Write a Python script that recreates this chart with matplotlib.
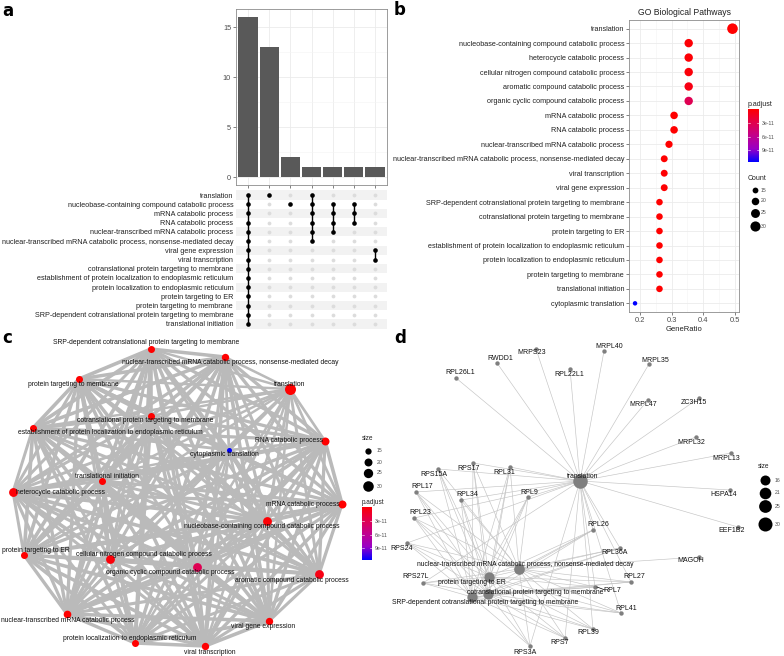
import numpy as np
import matplotlib
matplotlib.use('Agg')
import matplotlib.pyplot as plt
from matplotlib.colors import LinearSegmentedColormap, Normalize

plt.rcParams['font.family'] = ['Liberation Sans', 'DejaVu Sans']

# ------------------------------------------------------------------ data
upset_sets = [
    "translation",
    "nucleobase-containing compound catabolic process",
    "mRNA catabolic process",
    "RNA catabolic process",
    "nuclear-transcribed mRNA catabolic process",
    "nuclear-transcribed mRNA catabolic process, nonsense-mediated decay",
    "viral gene expression",
    "viral transcription",
    "cotranslational protein targeting to membrane",
    "establishment of protein localization to endoplasmic reticulum",
    "protein localization to endoplasmic reticulum",
    "protein targeting to ER",
    "protein targeting to membrane",
    "SRP-dependent cotranslational protein targeting to membrane",
    "translational initiation",
]
intersection_sizes = [16, 13, 2, 1, 1, 1, 1]
intersection_members = [
    list(range(15)),
    [0],
    [1],
    [0, 1, 2, 3, 4, 5],
    [1, 2, 3, 4],
    [1, 2, 3],
    [6, 7],
]

go_terms = [
    "translation",
    "nucleobase-containing compound catabolic process",
    "heterocycle catabolic process",
    "cellular nitrogen compound catabolic process",
    "aromatic compound catabolic process",
    "organic cyclic compound catabolic process",
    "mRNA catabolic process",
    "RNA catabolic process",
    "nuclear-transcribed mRNA catabolic process",
    "nuclear-transcribed mRNA catabolic process, nonsense-mediated decay",
    "viral transcription",
    "viral gene expression",
    "SRP-dependent cotranslational protein targeting to membrane",
    "cotranslational protein targeting to membrane",
    "protein targeting to ER",
    "establishment of protein localization to endoplasmic reticulum",
    "protein localization to endoplasmic reticulum",
    "protein targeting to membrane",
    "translational initiation",
    "cytoplasmic translation",
]
gene_ratio = [0.492, 0.354, 0.354, 0.354, 0.354, 0.354, 0.308, 0.308, 0.292,
              0.277, 0.277, 0.277, 0.262, 0.262, 0.262, 0.262, 0.262, 0.262,
              0.262, 0.185]
go_count = [32, 23, 23, 23, 23, 23, 20, 20, 19, 18, 18, 18, 17, 17, 17, 17, 17,
            17, 17, 12]
go_padj = [1e-14, 2e-12, 2e-12, 4e-12, 8e-12, 3.2e-11, 1e-13, 1e-13, 1e-13,
           1e-13, 1e-12, 1e-12, 1e-14, 1e-14, 1e-14, 1e-14, 1e-14, 1e-14,
           1e-14, 1.15e-10]

# panel c: enrichment map layout (node positions and label positions)
emap_pos = {
    "translation": (290, 389),
    "SRP-dependent cotranslational protein targeting to membrane": (151, 349),
    "nuclear-transcribed mRNA catabolic process, nonsense-mediated decay": (225, 357),
    "protein targeting to membrane": (79, 379),
    "cotranslational protein targeting to membrane": (151, 416),
    "establishment of protein localization to endoplasmic reticulum": (33, 428),
    "RNA catabolic process": (325, 441),
    "cytoplasmic translation": (229, 450),
    "translational initiation": (102, 481),
    "heterocycle catabolic process": (13, 492),
    "mRNA catabolic process": (342, 504),
    "nucleobase-containing compound catabolic process": (267, 521),
    "protein targeting to ER": (24, 555),
    "cellular nitrogen compound catabolic process": (110, 559),
    "organic cyclic compound catabolic process": (197, 567),
    "aromatic compound catabolic process": (319, 574),
    "nuclear-transcribed mRNA catabolic process": (67, 614),
    "viral gene expression": (269, 621),
    "protein localization to endoplasmic reticulum": (135, 643),
    "viral transcription": (205, 646),
}
emap_label = {
    "translation": (290, 384),
    "SRP-dependent cotranslational protein targeting to membrane": (146, 343),
    "nuclear-transcribed mRNA catabolic process, nonsense-mediated decay": (230, 363),
    "protein targeting to membrane": (73, 384),
    "cotranslational protein targeting to membrane": (145, 421),
    "establishment of protein localization to endoplasmic reticulum": (110, 432),
    "RNA catabolic process": (289, 441),
    "cytoplasmic translation": (224, 455),
    "translational initiation": (107, 476),
    "heterocycle catabolic process": (60, 492),
    "mRNA catabolic process": (303, 504),
    "nucleobase-containing compound catabolic process": (262, 527),
    "protein targeting to ER": (36, 551),
    "cellular nitrogen compound catabolic process": (144, 555),
    "organic cyclic compound catabolic process": (170, 572),
    "aromatic compound catabolic process": (292, 581),
    "nuclear-transcribed mRNA catabolic process": (68, 620),
    "viral gene expression": (263, 627),
    "protein localization to endoplasmic reticulum": (130, 638),
    "viral transcription": (210, 652),
}

# panel d: gene-concept network layout
cnet_categories = {
    "translation": (580, 481, 583, 476),
    "nuclear-transcribed mRNA catabolic process, nonsense-mediated decay": (519, 569, 525, 564),
    "protein targeting to ER": (489, 577, 472, 582),
    "cotranslational protein targeting to membrane": (488, 594, 535, 592),
    "SRP-dependent cotranslational protein targeting to membrane": (472, 597, 485, 602),
}
cnet_category_count = [32, 18, 17, 17, 17]
cnet_genes = {
    "RPL26L1": (456, 378, 460, 373), "RWDD1": (497, 363, 500, 358),
    "MRPS23": (536, 349, 532, 353), "RPL22L1": (570, 369, 569, 374),
    "MRPL40": (604, 351, 609, 347), "MRPL35": (649, 364, 655, 360),
    "MRPL47": (648, 400, 643, 405), "ZC3H15": (699, 398, 694, 403),
    "MRPL32": (696, 437, 691, 442), "MRPL13": (731, 453, 726, 458),
    "HSPA14": (730, 490, 724, 494), "EEF1B2": (738, 527, 732, 531),
    "MAGOH": (699, 557, 691, 561),
    "RPS15A": (438, 469, 434, 474), "RPS17": (473, 463, 469, 469),
    "RPL31": (510, 467, 504, 472), "RPL17": (416, 492, 422, 487),
    "RPL34": (461, 500, 467, 495), "RPL9": (528, 497, 529, 492),
    "RPL23": (414, 518, 420, 513), "RPL26": (593, 530, 598, 525),
    "RPS24": (407, 543, 402, 548), "RPL36A": (620, 548, 615, 553),
    "RPS27L": (423, 583, 416, 577), "RPL27": (631, 582, 634, 577),
    "RPL7": (595, 587, 612, 591), "RPL41": (621, 613, 626, 608),
    "RPL39": (593, 629, 588, 633), "RPS7": (565, 638, 560, 643),
    "RPS3A": (530, 646, 525, 652),
}
non_ribo = ["RPL26L1", "RWDD1", "MRPS23", "RPL22L1", "MRPL40", "MRPL35", "MRPL47",
            "ZC3H15", "MRPL32", "MRPL13", "HSPA14", "EEF1B2"]
ribo = ["RPS15A", "RPS17", "RPL31", "RPL17", "RPL34", "RPL9", "RPL23", "RPL26",
        "RPS24", "RPL36A", "RPS27L", "RPL27", "RPL7", "RPL41", "RPL39", "RPS7", "RPS3A"]
cnet_members = {
    "translation": non_ribo + ribo,
    "nuclear-transcribed mRNA catabolic process, nonsense-mediated decay": ribo + ["MAGOH"],
    "protein targeting to ER": ribo,
    "cotranslational protein targeting to membrane": ribo,
    "SRP-dependent cotranslational protein targeting to membrane": ribo,
}

# ------------------------------------------------------------------ figure
W, H = 784, 656
fig = plt.figure(figsize=(W / 100, H / 100), dpi=100)


def add_ax(x0, y0, x1, y1, **kw):
    return fig.add_axes([x0 / W, 1 - y1 / H, (x1 - x0) / W, (y1 - y0) / H], **kw)


def px2s(d):
    return (d * 0.72) ** 2


cmap = LinearSegmentedColormap.from_list(
    'padj', ['#FF0000', '#E3004B', '#C3008C', '#9A00C5', '#0000FF'])
norm = Normalize(vmin=0, vmax=1.15e-10)
GRID = '#ebebeb'
BORDER = '#8c8c8c'
TXT = '#4d4d4d'
LAB = 5.2
NET = 4.85

# ---------------- panel a: bars
axb = add_ax(236, 9, 387, 185)
xs = np.arange(len(intersection_sizes))
axb.bar(xs, intersection_sizes, width=0.9, color='#595959', zorder=3)
axb.set_xlim(-0.567, 6.566)
axb.set_ylim(-0.8, 16.8)
axb.set_yticks([0, 5, 10, 15])
axb.set_yticks([2.5, 7.5, 12.5], minor=True)
axb.set_xticks(xs)
axb.set_xticklabels([])
axb.grid(True, which='major', color=GRID, lw=0.6, zorder=0)
axb.grid(True, which='minor', axis='y', color='#f4f4f4', lw=0.4, zorder=0)
axb.tick_params(labelsize=5.3, colors=TXT, length=2, width=0.5, pad=1.5)
axb.tick_params(which='minor', length=0)
for s in axb.spines.values():
    s.set_color(BORDER)
    s.set_linewidth(0.6)
axb.set_axisbelow(True)

# ---------------- panel a: matrix
axm = add_ax(236, 190.4, 387, 328.6)
nrow = len(upset_sets)
axm.set_xlim(-0.567, 6.566)
axm.set_ylim(nrow - 0.5, -0.5)
for r in range(0, nrow, 2):
    axm.axhspan(r - 0.5, r + 0.5, color='#f2f2f2', lw=0, zorder=0)
for c in range(len(intersection_sizes)):
    act = intersection_members[c]
    inact = [r for r in range(nrow) if r not in act]
    axm.scatter([c] * len(inact), inact, s=px2s(3.8), color='#dcdcdc', lw=0, zorder=2)
    axm.plot([c, c], [min(act), max(act)], color='black', lw=1.0, zorder=3)
    axm.scatter([c] * len(act), act, s=px2s(4.6), color='black', lw=0, zorder=4)
axm.set_yticks(range(nrow))
axm.set_yticklabels(upset_sets, fontsize=LAB, color='#222222')
axm.tick_params(axis='y', length=0, pad=2)
axm.set_xticks([])
for s in axm.spines.values():
    s.set_visible(False)

# ---------------- panel b: dot plot
axd = add_ax(629, 20, 739, 312)
n = len(go_terms)
yy = np.arange(n)
area = [20.0 + 4.6 * (c - 12) for c in go_count]
axd.scatter(gene_ratio, yy, s=[px2s(np.sqrt(a)) for a in area],
            c=go_padj, cmap=cmap, norm=norm, lw=0, zorder=3)
axd.set_xlim(0.166, 0.5125)
axd.set_ylim(n - 1 + 0.6, -0.6)
axd.set_xticks([0.2, 0.3, 0.4, 0.5])
axd.set_xticklabels(['0.2', '0.3', '0.4', '0.5'])
axd.set_xticks([0.25, 0.35, 0.45], minor=True)
axd.set_yticks(yy)
axd.set_yticklabels(go_terms, fontsize=LAB, color='#222222')
axd.grid(True, which='major', color=GRID, lw=0.6, zorder=0)
axd.grid(True, which='minor', axis='x', color='#f4f4f4', lw=0.4, zorder=0)
axd.tick_params(axis='x', labelsize=5.4, colors=TXT, length=2, width=0.5, pad=1.5)
axd.tick_params(axis='y', length=2, width=0.5, pad=1.5, colors=TXT, labelcolor='#222222')
axd.tick_params(which='minor', length=0)
axd.set_xlabel('GeneRatio', fontsize=5.5, labelpad=1.5, color='#222222')
axd.set_title('GO Biological Pathways', fontsize=6.2, pad=3.5, color='#222222')
for s in axd.spines.values():
    s.set_color(BORDER)
    s.set_linewidth(0.6)
axd.set_axisbelow(True)


def colorbar(x0, y0, x1, y1):
    ax = add_ax(x0, y0, x1, y1)
    grad = np.linspace(0, 1.15e-10, 256)[:, None]
    ax.imshow(grad, cmap=cmap, norm=norm, aspect='auto',
              extent=[0, 1, 1.15e-10, 0])
    ax.set_xlim(0, 1)
    ax.set_ylim(1.15e-10, 0)
    ax.set_xticks([])
    ax.yaxis.tick_right()
    ax.set_yticks([3e-11, 6e-11, 9e-11])
    ax.set_yticklabels(['3e-11', '6e-11', '9e-11'])
    ax.tick_params(axis='y', labelsize=3.7, colors=TXT, length=0, pad=2)
    for v in [3e-11, 6e-11, 9e-11]:
        ax.plot([0, 0.2], [v, v], color='white', lw=0.4)
        ax.plot([0.8, 1], [v, v], color='white', lw=0.4)
    for s in ax.spines.values():
        s.set_visible(False)
    return ax


colorbar(748, 109, 759, 162)

# ---------------- panel c: enrichment map
axc = add_ax(0, 330, 392, 656)
axc.set_xlim(0, 392)
axc.set_ylim(656, 330)
axc.axis('off')
cnt = dict(zip(go_terms, go_count))
pad_ = dict(zip(go_terms, go_padj))
names = list(emap_pos.keys())
for i in range(len(names)):
    for j in range(i + 1, len(names)):
        a, b = names[i], names[j]
        sim = min(cnt[a], cnt[b]) / max(cnt[a], cnt[b])
        (x1, y1), (x2, y2) = emap_pos[a], emap_pos[b]
        axc.plot([x1, x2], [y1, y2], color='#bababa', lw=0.8 + 1.8 * sim,
                 solid_capstyle='butt', zorder=1)
for nm in names:
    x, y = emap_pos[nm]
    d = np.sqrt(25 + 4.8 * (cnt[nm] - 12))
    axc.scatter([x], [y], s=px2s(d), color=cmap(norm(pad_[nm])), lw=0, zorder=3)
for nm in names:
    lx, ly = emap_label[nm]
    axc.text(lx, ly, nm, fontsize=NET, ha='center', va='center', color='#111111',
             zorder=4)

# ---------------- panel d: cnet plot
axn = add_ax(392, 330, 784, 656)
axn.set_xlim(392, 784)
axn.set_ylim(656, 330)
axn.axis('off')
for cat, genes in cnet_members.items():
    cx, cy = cnet_categories[cat][:2]
    for g in genes:
        gx, gy = cnet_genes[g][:2]
        axn.plot([cx, gx], [cy, gy], color='#c4c4c4', lw=0.45, zorder=1)
for g, (gx, gy, lx, ly) in cnet_genes.items():
    axn.scatter([gx], [gy], s=px2s(4.4), color='#7f7f7f', lw=0, zorder=3)
for (cat, (cx, cy, lx, ly)), c in zip(cnet_categories.items(), cnet_category_count):
    d = np.sqrt(100 + 6.9 * (c - 16))
    axn.scatter([cx], [cy], s=px2s(d), color='#7f7f7f', lw=0, zorder=3)
gx, gy, lx, ly = cnet_genes["RPL7"]
axn.plot([gx + 2, lx - 7], [gy, ly - 1], color='black', lw=0.5, zorder=4)
for g, (gx, gy, lx, ly) in cnet_genes.items():
    axn.text(lx, ly, g, fontsize=5.0, ha='center', va='center', color='#111111',
             zorder=5)
for cat, (cx, cy, lx, ly) in cnet_categories.items():
    axn.text(lx, ly, cat, fontsize=NET, ha='center', va='center', color='#111111',
             zorder=5)

# ---------------- legends (overlay in pixel space)
ov = fig.add_axes([0, 0, 1, 1], zorder=10)
ov.set_xlim(0, W)
ov.set_ylim(H, 0)
ov.axis('off')
ov.patch.set_alpha(0)

# b legends
ov.text(748, 104, 'p.adjust', fontsize=5, ha='left', va='center', color='#222222')
ov.text(748, 179, 'Count', fontsize=5, ha='left', va='center', color='#222222')
for lab, yv in zip([15, 20, 25, 30], [190, 201, 213, 226]):
    ov.scatter([755], [yv], s=px2s(np.sqrt(20.0 + 4.6 * (lab - 12))), color='black', lw=0)
    ov.text(761, yv, str(lab), fontsize=3.7, ha='left', va='center', color=TXT)

# c legends
ov.text(362, 439, 'size', fontsize=4.7, ha='left', va='center', color='#222222')
for lab, yv in zip([15, 20, 25, 30], [451, 462, 473, 486]):
    ov.scatter([368], [yv], s=px2s(np.sqrt(25 + 4.8 * (lab - 12))), color='black', lw=0)
    ov.text(377, yv, str(lab), fontsize=3.7, ha='left', va='center', color=TXT)
ov.text(362, 502, 'p.adjust', fontsize=4.7, ha='left', va='center', color='#222222')
colorbar(362, 507, 372, 560)

# d legend
ov.text(758, 466, 'size', fontsize=4.7, ha='left', va='center', color='#222222')
for lab, yv in zip([16, 21, 25, 30], [480, 493, 506, 524]):
    ov.scatter([765], [yv], s=px2s(np.sqrt(100 + 6.9 * (lab - 16))), color='black', lw=0)
    ov.text(775, yv, str(lab), fontsize=3.7, ha='left', va='center', color=TXT)

# panel letters
for letter, (x, y) in zip('abcd', [(2, 11), (394, 10), (2, 338), (394, 338)]):
    fig.text(x / W, 1 - y / H, letter, fontsize=12, fontweight='bold',
             ha='left', va='center', family='DejaVu Sans')

fig.savefig('out.png', dpi=100)
